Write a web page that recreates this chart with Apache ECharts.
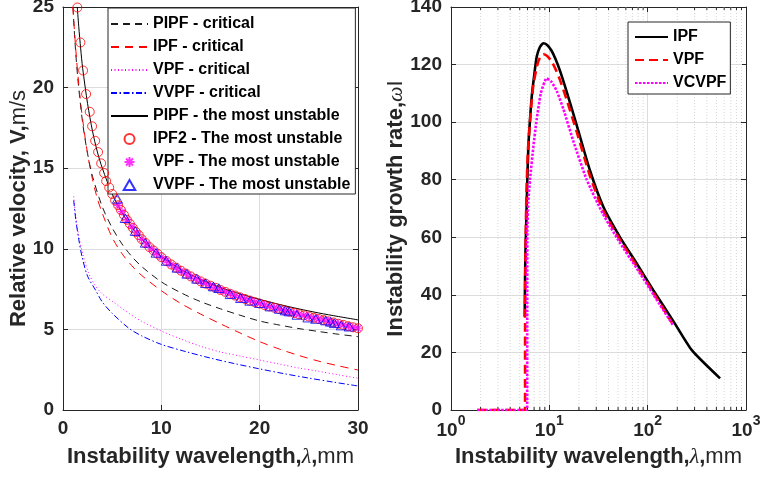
<!DOCTYPE html>
<html><head><meta charset="utf-8">
<script src="https://cdn.jsdelivr.net/npm/echarts@6/dist/echarts.min.js"></script>
<style>html,body{margin:0;padding:0;background:#fff}#c{width:760px;height:481px}</style>
</head><body><div id="c"></div>
<script>
// ---------- Left panel: relative velocity vs wavelength ----------
const pipfCritX = [1.02,1.2,1.5,2,2.5,3,4,5,6,7,8,10,12,14,16,18,20,22,24,26,28,30];
const pipfCritY = [25,23.0,20.6,17.8,15.9,14.5,12.6,11.3,10.3,9.52,8.9,7.95,7.27,6.72,6.28,5.88,5.52,5.27,5.05,4.87,4.7,4.55];
const ipfCritX = [1.0,1.2,1.4,1.7,2,2.5,3,3.5,4,5,6,7,8,10,12,14,16,18,20,22,24,26,28,30];
const ipfCritY = [25,23.2,21.6,19.6,18.0,15.9,14.3,13.1,12.2,10.7,9.7,8.95,8.35,7.4,6.6,5.95,5.35,4.78,4.24,3.78,3.38,3.03,2.74,2.48];
const vpfCritX = [1.09,1.3,1.6,2,2.6,3.3,4,5,6.7,8,10,12,14,16,18,20,22,24,26,28,30];
const vpfCritY = [13.25,12.0,10.8,9.7,8.5,7.7,7.2,6.75,6.0,5.5,4.9,4.4,3.95,3.6,3.35,3.1,2.85,2.6,2.4,2.18,1.97];
const vvpfCritX = [1.09,1.3,1.6,1.94,2.5,3.3,4,5,6.7,8,10,12.5,15,17.5,20,22.5,25,27.5,30];
const vvpfCritY = [13.0,11.8,10.6,9.5,8.3,7.45,6.7,6.0,5.07,4.6,4.07,3.62,3.22,2.87,2.55,2.25,1.98,1.73,1.49];
const pipfMostX = [1.45,1.6,1.8,2,2.5,3,3.5,4,5,6,7,8,9,10,12,14,16,18,20,22,24,26,28,30];
const pipfMostY = [25,23.8,22.4,21.2,19.0,17.3,16.0,15.0,13.4,12.25,11.35,10.62,10.02,9.52,8.72,8.1,7.6,7.2,6.86,6.55,6.27,6.02,5.8,5.59];
const ipf2MostX = [1.46,1.77,2.04,2.35,2.72,2.96,3.27,3.57,3.88,4.18,4.39,4.7,5.0,5.3,5.6,5.9,6.2,6.5,6.8,7.1,7.4,7.7,8.0,8.4,8.8,9.2,9.6,10.0,10.5,11,11.5,12,12.5,13,13.5,14,14.5,15,15.5,16,16.5,17,17.5,18,18.5,19,19.5,20,20.5,21,21.5,22,22.5,23,23.5,24,24.5,25,25.5,26,26.5,27,27.5,28,28.5,29,29.5,30];
const ipf2MostY = [24.97,22.8,21.06,19.6,18.5,17.6,16.7,16.0,15.3,14.7,14.2,13.8,13.4,13.0,12.7,12.4,12.1,11.8,11.55,11.3,11.05,10.85,10.6,10.35,10.1,9.9,9.7,9.48,9.25,9.03,8.83,8.64,8.46,8.29,8.13,7.98,7.84,7.71,7.58,7.45,7.33,7.21,7.1,6.99,6.89,6.79,6.69,6.6,6.51,6.42,6.34,6.26,6.18,6.1,6.02,5.94,5.87,5.8,5.72,5.65,5.58,5.5,5.43,5.35,5.28,5.2,5.13,5.07];
const vpfMostX = [5.6,6.0,6.5,7.0,7.5,8.0,8.5,9.0,9.5,10,10.5,11,11.5,12,12.5,13,13.5,14,14.5,15,15.5,16,16.5,17,17.5,18,18.5,19,19.5,20,20.5,21,21.5,22,22.5,23,23.5,24,24.5,25,25.5,26,26.5,27,27.5,28,28.5,29,29.5,30];
const vpfMostY = [12.7,12.3,11.8,11.38,10.98,10.6,10.3,10.0,9.73,9.48,9.25,9.03,8.83,8.64,8.46,8.29,8.13,7.98,7.84,7.71,7.58,7.45,7.33,7.21,7.1,6.99,6.89,6.79,6.69,6.6,6.51,6.42,6.34,6.26,6.18,6.1,6.02,5.94,5.87,5.8,5.72,5.65,5.58,5.5,5.43,5.35,5.28,5.2,5.13,5.07];
const vvpfMostX = [5.54,6.33,7.35,8.37,9.46,10.5,11.6,12.6,13.6,14.5,15.3,15.85,17.0,18.06,19.0,20.0,21.05,22.0,22.6,23.0,23.8,24.9,25.7,26.7,27.2,27.6,28.3,29.1,30.1];
const vvpfMostY = [13.1,11.9,11.1,10.37,9.75,9.25,8.82,8.45,8.14,7.87,7.66,7.56,7.18,6.94,6.77,6.63,6.42,6.27,6.17,6.11,5.9,5.73,5.65,5.55,5.47,5.38,5.24,5.17,5.07];

// ---------- Right panel: growth rate vs wavelength (log x) ----------
const ipfGX = [5.62,5.66,5.72,5.8,5.95,6.12,6.35,6.62,7.0,7.44,8.0,8.69,9.5,10.5,11.5,12.85,15,19,25.9,35.4,52.4,77.4,114,183,281,545];
const ipfGY = [32.4,45,55,62.5,78,91.5,100.5,108.8,116,122.7,126,127.4,126.8,124.9,122.1,117.8,110.6,98.9,83.2,70.6,60.0,50.9,41.6,30.8,20.8,11.0];
const vpfGX = [1.85,3,4,5,5.66,5.67,5.72,5.85,6.05,6.26,6.6,6.88,7.5,8.0,8.69,9.5,10.5,11.5,12.85,15,19,25.9,35.4,52.4,77.4,114,176];
const vpfGY = [0,0,0,0,0,30,55,75,90,97.3,107,113,119.5,122.3,123.6,123.0,121.2,118.6,114.6,107.8,96.6,81.3,69.2,59.0,50.0,40.8,30.4];
const vcvpfGX = [1.85,3,4,5,5.95,5.96,5.98,6.1,6.36,6.88,7.44,8.2,9.4,10.5,11.9,13.9,17.5,24,35,52.4,77.4,114,183];
const vcvpfGY = [0,0,0,0,0,30,62.5,72,79.9,91.5,101,110,115.2,114.0,110.8,104.5,93.5,80.0,68.2,58.0,49.2,40.2,29.2];

// ---------- Ticks ----------
const leftXTicks = [0,10,20,30];
const leftYTicks = [0,5,10,15,20,25];
const rightXExponents = [0,1,2,3];
const rightYTicks = [0,20,40,60,80,100,120,140];
const logMinorTicks = [2,3,4,5,6,7,8,9,20,30,40,50,60,70,80,90,200,300,400,500,600,700,800,900];

const FONT = 'Liberation Sans, Arial, Helvetica, sans-serif';
const TXT = '#262626';
const zip = (xs, ys) => xs.map((x, i) => [x, ys[i]]);
const TRI = 'path://M5 0L10 8.66L0 8.66Z';
const AST = 'path://M5 0L5 10M0 5L10 5M1.5 1.5L8.5 8.5M8.5 1.5L1.5 8.5';

function mainAxisCommon(pos) {
  return {
    position: pos,
    axisLine: { show: true, onZero: false, lineStyle: { color: TXT, width: 1 } },
    axisTick: { show: true, inside: true, length: 5, lineStyle: { color: TXT, width: 1 } },
    axisLabel: { show: true, fontSize: 19, fontWeight: 'bold', color: TXT, fontFamily: FONT, margin: 9 },
    splitLine: { show: true, lineStyle: { color: '#dcdcdc', width: 1 } }
  };
}
function boxAxis(pos) {
  return {
    position: pos,
    axisLine: { show: true, onZero: false, lineStyle: { color: TXT, width: 1 } },
    axisTick: { show: true, inside: true, length: 5, lineStyle: { color: TXT, width: 1 } },
    axisLabel: { show: false },
    splitLine: { show: false }
  };
}
const nameRich = {
  b: { fontSize: 22, fontWeight: 'bold', color: TXT, fontFamily: FONT },
  n: { fontSize: 22, fontWeight: 'normal', color: TXT, fontFamily: FONT },
  l: { fontSize: 22, fontStyle: 'italic', fontWeight: 'normal', color: TXT, fontFamily: 'Liberation Serif, DejaVu Serif, serif' }
};
const xName = '{b|Instability wavelength,}{l|λ}{b|,}{n|mm}';
const lineItem = name => ({ name, itemStyle: { opacity: 0 } });

const option = {
  animation: false,
  backgroundColor: '#fff',
  grid: [
    { left: 63, right: 402, top: 7, bottom: 71, containLabel: false, outerBoundsMode: 'none' },
    { left: 451, right: 14, top: 7, bottom: 71, containLabel: false, outerBoundsMode: 'none' }
  ],
  xAxis: [
    Object.assign(mainAxisCommon('bottom'), {
      gridIndex: 0, type: 'value', min: leftXTicks[0], max: leftXTicks[leftXTicks.length - 1], interval: 10,
      name: xName, nameLocation: 'middle', nameGap: 36, nameMoveOverlap: false,
      nameTextStyle: { rich: nameRich }
    }),
    Object.assign(boxAxis('top'), { gridIndex: 0, type: 'value', min: 0, max: 30, interval: 10 }),
    Object.assign(mainAxisCommon('bottom'), {
      gridIndex: 1, type: 'log', logBase: 10, min: Math.pow(10, rightXExponents[0]), max: Math.pow(10, rightXExponents[rightXExponents.length - 1]),
      name: xName, nameLocation: 'middle', nameGap: 36, nameMoveOverlap: false,
      nameTextStyle: { rich: nameRich },
      axisLabel: {
        show: true, margin: 4, color: TXT,
        formatter: v => '{b|10}{s|' + Math.round(Math.log10(v)) + '}',
        rich: {
          b: { fontSize: 19, fontWeight: 'bold', color: TXT, fontFamily: FONT, verticalAlign: 'bottom', lineHeight: 26 },
          s: { fontSize: 14, fontWeight: 'bold', color: TXT, fontFamily: FONT, verticalAlign: 'top', lineHeight: 26 }
        }
      }
    }),
    Object.assign(boxAxis('top'), { gridIndex: 1, type: 'log', logBase: 10, min: 1, max: 1000 })
  ],
  yAxis: [
    Object.assign(mainAxisCommon('left'), {
      gridIndex: 0, type: 'value', min: leftYTicks[0], max: leftYTicks[leftYTicks.length - 1], interval: 5,
      name: '{b|Relative velocity, V,}{n|m/s}', nameLocation: 'middle', nameGap: 33, nameRotate: 90, nameMoveOverlap: false,
      nameTextStyle: { rich: nameRich }
    }),
    Object.assign(boxAxis('right'), { gridIndex: 0, type: 'value', min: 0, max: 25, interval: 5 }),
    Object.assign(mainAxisCommon('left'), {
      gridIndex: 1, type: 'value', min: rightYTicks[0], max: rightYTicks[rightYTicks.length - 1], interval: 20,
      name: '{b|Instability growth rate,}{l|ω}{n|I}', nameLocation: 'middle', nameGap: 44, nameRotate: 90, nameMoveOverlap: false,
      nameTextStyle: { rich: nameRich }
    }),
    Object.assign(boxAxis('right'), { gridIndex: 1, type: 'value', min: 0, max: 140, interval: 20 })
  ],
  legend: [
    {
      orient: 'vertical', left: 108, top: 8, padding: [8, 5, 1, 2], itemGap: 7, itemWidth: 37, itemHeight: 10,
      backgroundColor: '#fff', borderColor: '#262626', borderWidth: 1, borderRadius: 0, selectedMode: false,
      symbolKeepAspect: true,
      textStyle: { fontSize: 16, fontWeight: 'bold', color: '#000', fontFamily: FONT },
      data: [lineItem('PIPF - critical'), lineItem('IPF - critical'), lineItem('VPF - critical'), lineItem('VVPF - critical'),
             lineItem('PIPF - the most unstable'), 'IPF2 - The most unstable', 'VPF - The most unstable', 'VVPF - The most unstable']
    },
    {
      orient: 'vertical', left: 628, top: 22, padding: [7, 4, 3, 6], itemGap: 7, itemWidth: 33, itemHeight: 10,
      backgroundColor: '#fff', borderColor: '#262626', borderWidth: 1, borderRadius: 0, selectedMode: false,
      textStyle: { fontSize: 16, fontWeight: 'bold', color: '#000', fontFamily: FONT },
      data: [lineItem('IPF'), lineItem('VPF'), lineItem('VCVPF')]
    }
  ],
  series: [
    // minor log grid + minor ticks (right panel)
    {
      type: 'custom', xAxisIndex: 2, yAxisIndex: 2, silent: true, z: 1, clip: false,
      data: logMinorTicks.map(v => [v, 0]),
      encode: { x: 0, y: 1 },
      renderItem: (params, api) => {
        const x = api.value(0);
        const t = api.coord([x, 140]);
        const b = api.coord([x, 0]);
        return { type: 'group', children: [
          { type: 'line', shape: { x1: t[0], y1: t[1], x2: b[0], y2: b[1] }, style: { stroke: '#d6d6d6', lineWidth: 1, lineDash: [1, 2] } },
          { type: 'line', shape: { x1: b[0], y1: b[1], x2: b[0], y2: b[1] - 3 }, style: { stroke: TXT, lineWidth: 1 } },
          { type: 'line', shape: { x1: t[0], y1: t[1], x2: t[0], y2: t[1] + 3 }, style: { stroke: TXT, lineWidth: 1 } }
        ] };
      }
    },
    { name: 'PIPF - critical', type: 'line', xAxisIndex: 0, yAxisIndex: 0, symbol: 'none', smooth: 0.3, z: 3,
      lineStyle: { color: '#1a1a1a', width: 1, type: [7, 5] }, itemStyle: { color: '#777' }, data: zip(pipfCritX, pipfCritY) },
    { name: 'IPF - critical', type: 'line', xAxisIndex: 0, yAxisIndex: 0, symbol: 'none', smooth: 0.3, z: 3,
      lineStyle: { color: '#ff0000', width: 1, type: [8, 6] }, itemStyle: { color: '#ff0000' }, data: zip(ipfCritX, ipfCritY) },
    { name: 'VPF - critical', type: 'line', xAxisIndex: 0, yAxisIndex: 0, symbol: 'none', smooth: 0.3, z: 3,
      lineStyle: { color: '#ff00ff', width: 1, type: [1, 2.5] }, itemStyle: { color: '#ff00ff' }, data: zip(vpfCritX, vpfCritY) },
    { name: 'VVPF - critical', type: 'line', xAxisIndex: 0, yAxisIndex: 0, symbol: 'none', smooth: 0.3, z: 3,
      lineStyle: { color: '#0000ff', width: 1, type: [6, 2.5, 1.5, 2.5] }, itemStyle: { color: '#0000ff' }, data: zip(vvpfCritX, vvpfCritY) },
    { name: 'PIPF - the most unstable', type: 'line', xAxisIndex: 0, yAxisIndex: 0, symbol: 'none', smooth: 0.3, z: 3,
      lineStyle: { color: '#000', width: 1 }, itemStyle: { color: '#000' }, data: zip(pipfMostX, pipfMostY) },
    { name: 'IPF2 - The most unstable', type: 'scatter', xAxisIndex: 0, yAxisIndex: 0, symbol: 'circle', symbolSize: 9, z: 4,
      itemStyle: { color: 'rgba(0,0,0,0)', borderColor: '#ff0000', borderWidth: 1 }, data: zip(ipf2MostX, ipf2MostY) },
    { name: 'VPF - The most unstable', type: 'scatter', xAxisIndex: 0, yAxisIndex: 0, z: 5,
      symbol: AST, symbolSize: 8, symbolKeepAspect: true,
      itemStyle: { color: 'rgba(0,0,0,0)', borderColor: '#ff00ff', borderWidth: 1.2 }, data: zip(vpfMostX, vpfMostY) },
    { name: 'VVPF - The most unstable', type: 'scatter', xAxisIndex: 0, yAxisIndex: 0, symbol: TRI, symbolSize: 10, symbolKeepAspect: true, z: 6,
      itemStyle: { color: 'rgba(0,0,0,0)', borderColor: '#0000ff', borderWidth: 1 }, data: zip(vvpfMostX, vvpfMostY) },

    { name: 'IPF', type: 'line', xAxisIndex: 2, yAxisIndex: 2, symbol: 'none', smooth: 0.2, z: 3,
      lineStyle: { color: '#000', width: 2.6 }, itemStyle: { color: '#000' }, data: zip(ipfGX, ipfGY) },
    { name: 'VPF', type: 'line', xAxisIndex: 2, yAxisIndex: 2, symbol: 'none', smooth: 0.2, z: 4,
      lineStyle: { color: '#ff0000', width: 2.6, type: [9, 5] }, itemStyle: { color: '#ff0000' }, data: zip(vpfGX, vpfGY) },
    { name: 'VCVPF', type: 'line', xAxisIndex: 2, yAxisIndex: 2, symbol: 'none', smooth: 0.2, z: 5,
      lineStyle: { color: '#ff00ff', width: 2.6, type: [2.5, 1.5] }, itemStyle: { color: '#ff00ff' }, data: zip(vcvpfGX, vcvpfGY) }
  ]
};

const chart = echarts.init(document.getElementById('c'), null, { renderer: 'canvas' });
chart.setOption(option);
</script>
</body></html>
